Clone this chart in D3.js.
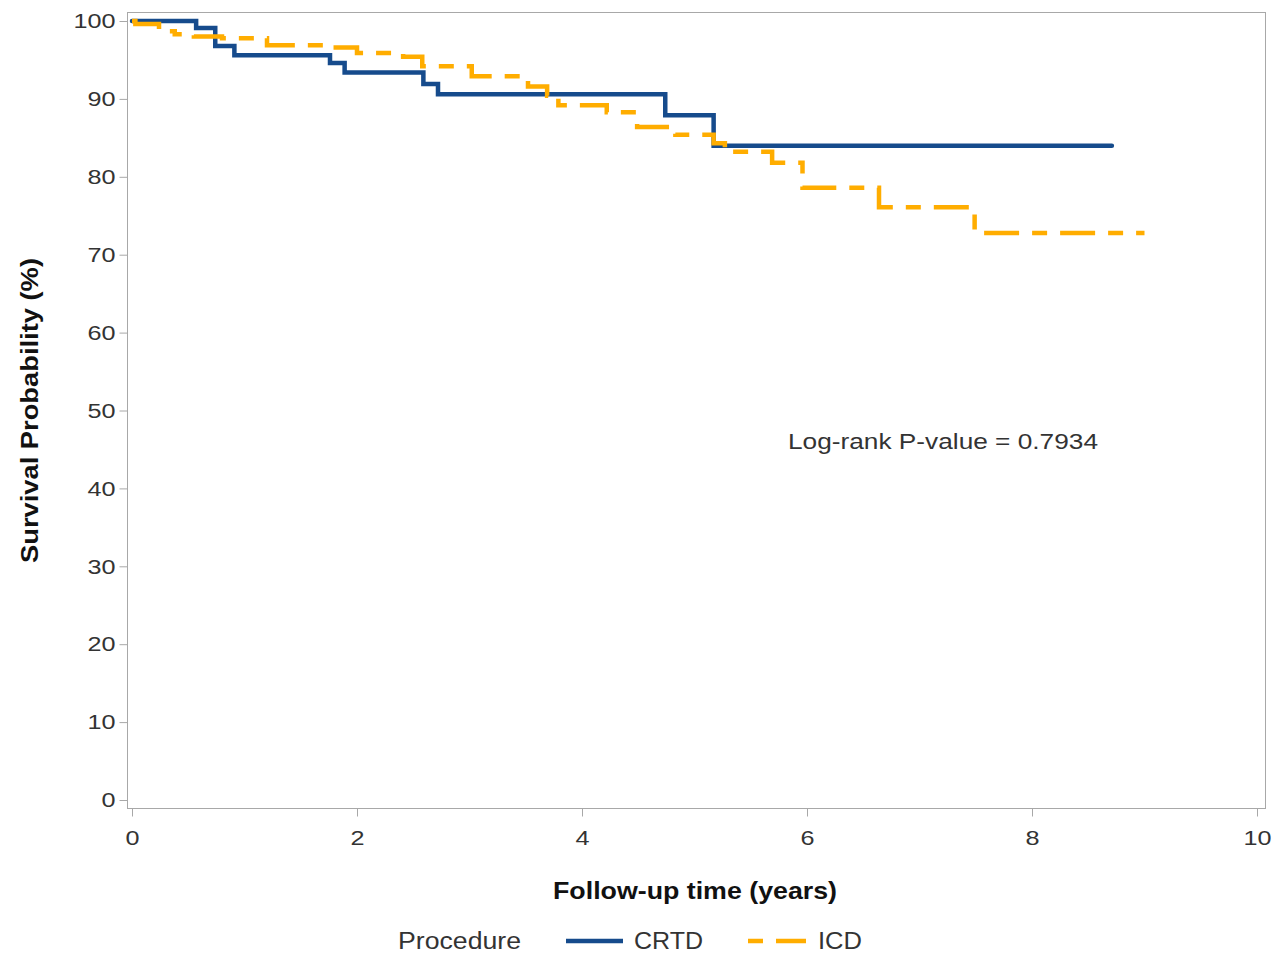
<!DOCTYPE html>
<html>
<head>
<meta charset="utf-8">
<script src="https://cdn.jsdelivr.net/npm/d3@7"></script>
<style>
  body { margin: 0; background: #fff; }
  text { font-family: "Liberation Sans", Arial, sans-serif; }
</style>
</head>
<body>
<svg id="chart" width="1276" height="958"></svg>
<script>
// Kaplan-Meier step data
var crtdTime = [0, 0.57, 0.74, 0.91, 1.76, 1.89, 2.59, 2.72, 4.74, 5.17, 8.71];
var crtdSurv = [100, 99.1, 96.8, 95.6, 94.6, 93.4, 91.9, 90.6, 87.9, 84.0, 84.0];

var icdTime = [0, 0.03, 0.24, 0.38, 0.55, 0.80, 1.20, 1.78, 2.00, 2.41, 2.58, 3.02, 3.52, 3.69, 3.79, 4.22, 4.49, 4.83, 5.17, 5.27, 5.69, 5.96, 6.64, 7.49, 9.0];
var icdSurv = [100, 99.6, 98.7, 98.3, 98.0, 97.8, 96.9, 96.6, 95.9, 95.4, 94.2, 92.9, 91.6, 90.4, 89.2, 88.3, 86.4, 85.4, 84.3, 83.2, 81.8, 78.6, 76.1, 72.8, 72.8];

var xTicks = [0, 2, 4, 6, 8, 10];
var yTicks = [0, 10, 20, 30, 40, 50, 60, 70, 80, 90, 100];

var series = [
  { name: 'CRTD', time: crtdTime, surv: crtdSurv, color: '#164b8c', dash: null },
  { name: 'ICD', time: icdTime, surv: icdSurv, color: '#ffad00', dash: '35,13,15,13' }
];

// tick labels in the original are drawn a bit wide
var TICK_STRETCH = 1.2;

var svg = d3.select('#chart');

var frame = { left: 127, top: 12, right: 1265, bottom: 808 };

var x = d3.scaleLinear().domain([0, 10]).range([132, 1257]);
var y = d3.scaleLinear().domain([0, 100]).range([800, 21]);

// text fitted to the width it has in the original
function label(px, py, str, opts) {
  var rot = opts.rotate ? ' rotate(-90)' : '';
  var t = svg.append('text')
    .attr('transform', 'translate(' + px + ',' + py + ')' + rot)
    .attr('text-anchor', opts.anchor || 'start')
    .attr('fill', opts.color || '#333')
    .style('font-size', opts.size + 'px')
    .style('font-weight', opts.bold ? 'bold' : 'normal')
    .text(str);
  if (opts.width) {
    t.attr('textLength', opts.width).attr('lengthAdjust', 'spacingAndGlyphs');
  }
  return t;
}

// frame
svg.append('rect')
  .attr('x', frame.left + 0.5)
  .attr('y', frame.top + 0.5)
  .attr('width', frame.right - frame.left)
  .attr('height', frame.bottom - frame.top)
  .attr('fill', 'none')
  .attr('stroke', '#a8a8a8')
  .attr('stroke-width', 1);

// axes
var xAxis = d3.axisBottom(x).tickValues(xTicks).tickSize(8).tickPadding(14).tickFormat(d3.format('d'));
var yAxis = d3.axisLeft(y).tickValues(yTicks).tickSize(8).tickPadding(2).tickFormat(d3.format('d'));

var gx = svg.append('g')
  .attr('transform', 'translate(0,' + (frame.bottom + 0.5) + ')')
  .call(xAxis);
var gy = svg.append('g')
  .attr('transform', 'translate(' + (frame.left + 0.5) + ',0)')
  .call(yAxis);

[gx, gy].forEach(function (g) {
  g.select('.domain').remove();
  g.selectAll('.tick line').attr('stroke', '#a8a8a8');
  g.selectAll('.tick text')
    .attr('fill', '#333')
    .attr('transform', 'scale(' + TICK_STRETCH + ',1)')
    .style('font-size', '21px')
    .style('font-family', '"Liberation Sans", Arial, sans-serif');
});

// curves
var line = d3.line()
  .x(function (d) { return x(d[0]); })
  .y(function (d) { return y(d[1]); })
  .curve(d3.curveStepAfter);

series.forEach(function (s) {
  var pts = s.time.map(function (t, i) { return [t, s.surv[i]]; });
  svg.append('path')
    .datum(pts)
    .attr('d', line)
    .attr('fill', 'none')
    .attr('stroke', s.color)
    .attr('stroke-width', 4.5)
    .attr('stroke-linecap', s.dash ? 'butt' : 'round')
    .attr('stroke-dasharray', s.dash);
});

// annotation
label(788, 449, 'Log-rank P-value = 0.7934', { size: 22, width: 310 });

// axis titles
label(553, 899, 'Follow-up time (years)', { bold: true, size: 24, width: 284, color: '#111' });
label(38, 563, 'Survival Probability (%)', { bold: true, size: 24, width: 305, color: '#111', rotate: true });

// legend
var legY = 941;
label(398, legY + 8, 'Procedure', { size: 23, width: 123 });

var legend = [
  { x1: 566, x2: 623, tx: 634, w: 69 },
  { x1: 748, x2: 806, tx: 818, w: 44 }
];
series.forEach(function (s, i) {
  var l = legend[i];
  svg.append('line')
    .attr('x1', l.x1).attr('x2', l.x2)
    .attr('y1', legY).attr('y2', legY)
    .attr('stroke', s.color)
    .attr('stroke-width', 4.5)
    .attr('stroke-dasharray', s.dash ? '15,13,30' : null);
  label(l.tx, legY + 8, s.name, { size: 23, width: l.w });
});
</script>
</body>
</html>
